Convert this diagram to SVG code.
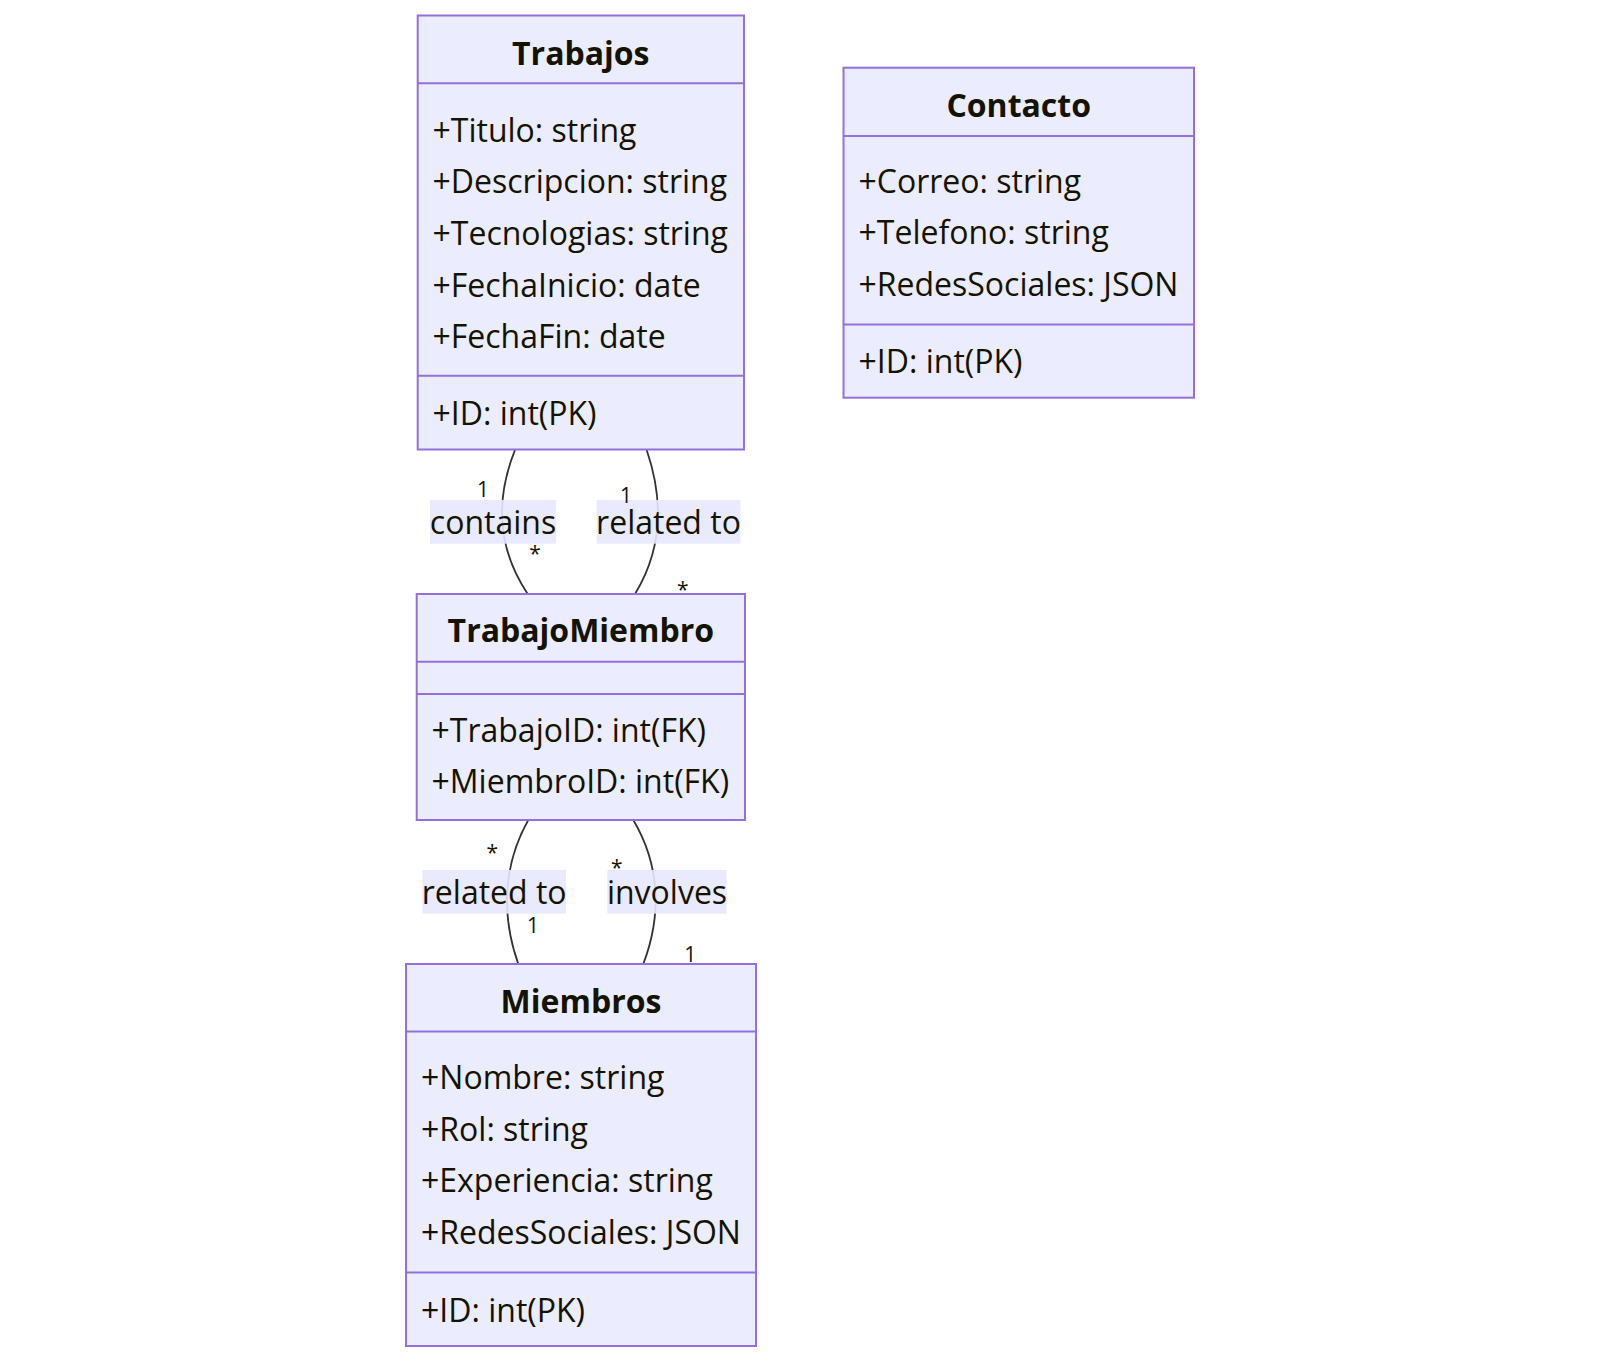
<svg xmlns="http://www.w3.org/2000/svg" width="1600" height="1362" viewBox="0 0 1600 1362">
<style>
  .box { fill: #ECECFF; stroke: #9370DB; stroke-width: 2; }
  .div { stroke: #9370DB; stroke-width: 2; }
  .title { font-family: "Open Sans", "Noto Sans", sans-serif; font-weight: bold; font-size: 32px; fill: #131300; text-anchor: middle; }
  .mem { font-family: "Open Sans", "Noto Sans", sans-serif; font-size: 32px; fill: #131300; }
  .edge { fill: none; stroke: #333333; stroke-width: 1.8; }
  .lblbg { fill: #E8E8FF; opacity: 0.9; }
  .lbl { font-family: "Open Sans", "Noto Sans", sans-serif; font-size: 32px; fill: #131300; text-anchor: middle; }
  .card { font-family: "Open Sans", "Noto Sans", sans-serif; font-size: 21px; fill: #131300; text-anchor: middle; }
</style>
<rect width="1600" height="1362" fill="#ffffff"/>
<g id="connectors">
  <path class="edge" d="M515,450 C497,495 495,545 527.7,594"/>
  <path class="edge" d="M646.7,450 C662,495 665,545 635,594"/>
  <path class="edge" d="M528.3,820 C503,865 501,915 518.3,964"/>
  <path class="edge" d="M633.3,820 C660,865 662,915 643.3,964"/>
  <rect class="lblbg" x="430" y="500" width="126" height="43.7"/>
  <text class="lbl" x="493" y="534">contains</text>
  <rect class="lblbg" x="596.7" y="500" width="143.6" height="43.7"/>
  <text class="lbl" x="668.5" y="534">related to</text>
  <rect class="lblbg" x="422.3" y="870" width="143.7" height="43.7"/>
  <text class="lbl" x="494.2" y="904">related to</text>
  <rect class="lblbg" x="607.3" y="870" width="119.4" height="43.7"/>
  <text class="lbl" x="667" y="904">involves</text>
  <text class="card" x="483" y="496.7">1</text>
  <text class="card" x="535" y="561">*</text>
  <text class="card" x="626" y="503.3">1</text>
  <text class="card" x="682.7" y="597">*</text>
  <text class="card" x="492.3" y="860">*</text>
  <text class="card" x="533" y="932.7">1</text>
  <text class="card" x="616.7" y="874.5">*</text>
  <text class="card" x="690.3" y="961.7">1</text>
</g>
<g id="Trabajos">
  <rect class="box" x="417.7" y="15.5" width="326.3" height="434"/>
  <line class="div" x1="417.7" y1="83.3" x2="744" y2="83.3"/>
  <line class="div" x1="417.7" y1="375.7" x2="744" y2="375.7"/>
  <text class="title" x="580.8" y="64.5">Trabajos</text>
  <text class="mem" x="432.5" y="141.5">+Titulo: string</text>
  <text class="mem" x="432.5" y="193.2">+Descripcion: string</text>
  <text class="mem" x="432.5" y="244.9">+Tecnologias: string</text>
  <text class="mem" x="432.5" y="296.6">+FechaInicio: date</text>
  <text class="mem" x="432.5" y="348.3">+FechaFin: date</text>
  <text class="mem" x="432.5" y="425">+ID: int(PK)</text>
</g>
<g id="Contacto">
  <rect class="box" x="843.5" y="67.7" width="350.5" height="330"/>
  <line class="div" x1="843.5" y1="136" x2="1194" y2="136"/>
  <line class="div" x1="843.5" y1="324.5" x2="1194" y2="324.5"/>
  <text class="title" x="1018.7" y="116.7">Contacto</text>
  <text class="mem" x="858.5" y="192.7">+Correo: string</text>
  <text class="mem" x="858.5" y="244.4">+Telefono: string</text>
  <text class="mem" x="858.5" y="296.1">+RedesSociales: JSON</text>
  <text class="mem" x="858.5" y="373.3">+ID: int(PK)</text>
</g>
<g id="TrabajoMiembro">
  <rect class="box" x="416.7" y="594" width="328.3" height="226"/>
  <line class="div" x1="416.7" y1="661.7" x2="745" y2="661.7"/>
  <line class="div" x1="416.7" y1="694" x2="745" y2="694"/>
  <text class="title" x="580.8" y="642">TrabajoMiembro</text>
  <text class="mem" x="431.5" y="741.7">+TrabajoID: int(FK)</text>
  <text class="mem" x="431.5" y="793.3">+MiembroID: int(FK)</text>
</g>
<g id="Miembros">
  <rect class="box" x="406" y="964" width="350" height="382"/>
  <line class="div" x1="406" y1="1031.5" x2="756" y2="1031.5"/>
  <line class="div" x1="406" y1="1272.5" x2="756" y2="1272.5"/>
  <text class="title" x="581" y="1013">Miembros</text>
  <text class="mem" x="421" y="1089">+Nombre: string</text>
  <text class="mem" x="421" y="1140.7">+Rol: string</text>
  <text class="mem" x="421" y="1192.4">+Experiencia: string</text>
  <text class="mem" x="421" y="1244.1">+RedesSociales: JSON</text>
  <text class="mem" x="421" y="1321.5">+ID: int(PK)</text>
</g>
</svg>
